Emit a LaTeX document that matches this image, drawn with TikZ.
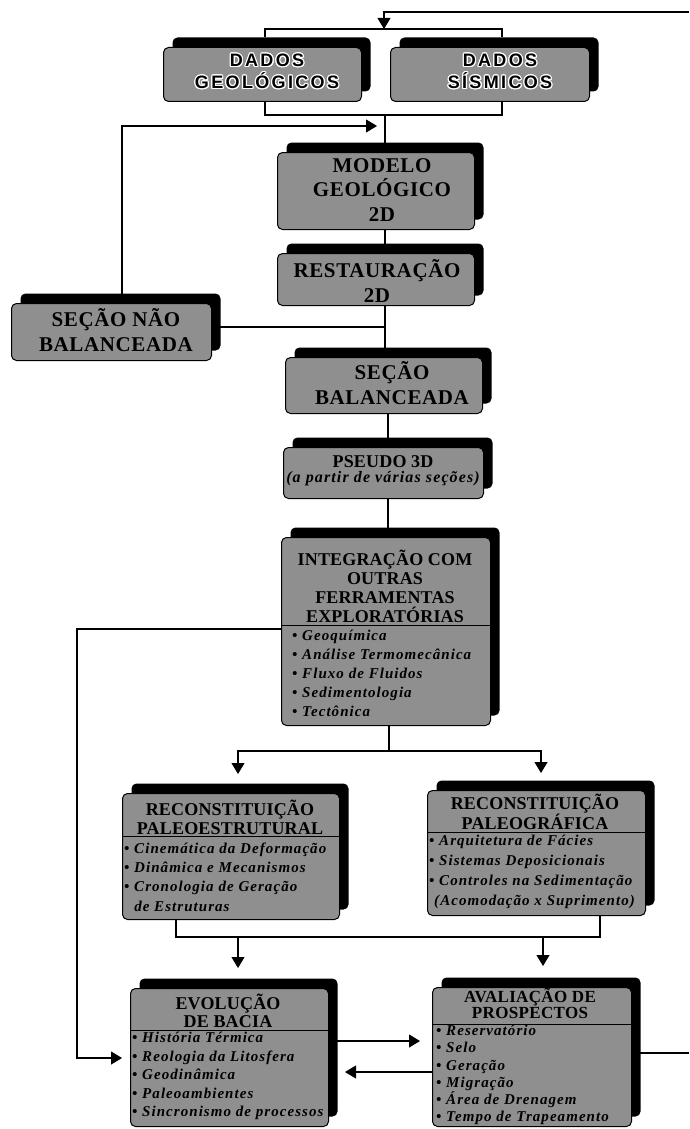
\documentclass[tikz,border=0pt]{standalone}
\usepackage{fontspec}
\setmainfont{Liberation Serif}
\setsansfont{Liberation Sans}
\usepackage[copies]{contour}
\usetikzlibrary{arrows.meta,shadows}
\definecolor{boxgray}{gray}{0.56}
\contourlength{1.1pt}
\newcommand\fsz[2]{\fontsize{#1}{#2}\selectfont}
\begin{document}
\begin{tikzpicture}[x=1pt,y=-1pt,
  box/.style={draw=black,line width=1pt,fill=boxgray,rounded corners=5pt,inner sep=0pt,anchor=north west,
    drop shadow={shadow xshift=9pt,shadow yshift=10pt,fill=black,opacity=1}},
  conn/.style={draw=black,line width=1.1pt},
  arr/.style={conn,-{Triangle[length=11pt,width=13pt]}},
  divline/.style={draw=black,line width=1pt},
  sttl/.style={inner sep=0pt,align=center,font=\sffamily\bfseries\fsz{18}{22}\addfontfeature{LetterSpace=13}},
  ttl/.style={inner sep=0pt,align=center,font=\bfseries\fsz{21}{24.5}\addfontfeature{LetterSpace=3}},
  mttl/.style={inner sep=0pt,align=center,font=\bfseries\fsz{18}{#1}\addfontfeature{LetterSpace=1}},
  sttlb/.style={inner sep=0pt,align=center,font=\bfseries\fsz{17}{#1}\addfontfeature{LetterSpace=2}},
  psub/.style={inner sep=0pt,align=center,font=\bfseries\itshape\fsz{16}{18}\addfontfeature{LetterSpace=7}},
  lst/.style={inner sep=0pt,align=left,anchor=west,font=\bfseries\itshape\fsz{15}{#1}\addfontfeature{LetterSpace=7}}
]
\useasboundingbox (0,0) rectangle (689,1129);

% boxes
\node[box,minimum width=198pt,minimum height=54pt] (geo) at (163,47) {};
\node[box,minimum width=199pt,minimum height=54pt] (sis) at (390,47) {};
\node[box,minimum width=197pt,minimum height=77pt] (modelo) at (277,152) {};
\node[box,minimum width=197pt,minimum height=52pt] (rest) at (277,253) {};
\node[box,minimum width=200pt,minimum height=57pt] (secnao) at (11,303) {};
\node[box,minimum width=197pt,minimum height=56pt] (secbal) at (285,357) {};
\node[box,minimum width=200pt,minimum height=51pt] (pseudo) at (283,447) {};
\node[box,minimum width=209pt,minimum height=188pt] (integ) at (281,537) {};
\node[box,minimum width=217pt,minimum height=126pt] (paleoest) at (122,793) {};
\node[box,minimum width=218pt,minimum height=125pt] (paleog) at (427,790) {};
\node[box,minimum width=198pt,minimum height=138pt] (evol) at (130,988) {};
\node[box,minimum width=199pt,minimum height=139pt] (aval) at (432,987) {};

% dividers
\draw[divline] ([yshift=-88pt]integ.north west) -- ([yshift=-88pt]integ.north east);
\draw[divline] ([yshift=-43pt]paleoest.north west) -- ([yshift=-43pt]paleoest.north east);
\draw[divline] ([yshift=-42pt]paleog.north west) -- ([yshift=-42pt]paleog.north east);
\draw[divline] ([yshift=-42pt]evol.north west) -- ([yshift=-42pt]evol.north east);
\draw[divline] ([yshift=-37pt]aval.north west) -- ([yshift=-37pt]aval.north east);

% texts
\node[sttl] (geoT) at (267,72) {\contour{white}{DADOS}\\\contour{white}{GEOLÓGICOS}};
\node[sttl] (sisT) at (500,72) {\contour{white}{DADOS}\\\contour{white}{SÍSMICOS}};
\node[ttl] (modT) at (382,190) {MODELO\\GEOLÓGICO\\2D};
\node[ttl] (resT) at (377,281) {RESTAURAÇÃO\\2D};
\node[ttl] (snT) at (116,330) {SEÇÃO NÃO\\BALANCEADA};
\node[ttl] (sbT) at (392,383) {SEÇÃO\\BALANCEADA};
\node[mttl=20] (psT) at (383,462) {PSEUDO 3D};
\node[psub] (psS) at (383,479) {(a partir de várias seções)};
\node[mttl=19] (inT) at (385,586.5) {INTEGRAÇÃO COM\\OUTRAS\\FERRAMENTAS\\EXPLORATÓRIAS};
\node[lst=19] (inL) at (292,673) {\textbullet\ Geoquímica\\\textbullet\ Análise Termomecânica\\\textbullet\ Fluxo de Fluidos\\\textbullet\ Sedimentologia\\\textbullet\ Tectônica};
\node[mttl=19.5] (peT) at (230,817.5) {RECONSTITUIÇÃO\\PALEOESTRUTURAL};
\node[lst=19.3] (peL) at (124,877) {\textbullet\ Cinemática da Deformação\\\textbullet\ Dinâmica e Mecanismos\\\textbullet\ Cronologia de Geração\\\phantom{\textbullet\ }de Estruturas};
\node[mttl=20] (pgT) at (535,812) {RECONSTITUIÇÃO\\PALEOGRÁFICA};
\node[lst=20] (pgL) at (429,872) {\textbullet\ Arquitetura de Fácies\\\textbullet\ Sistemas Deposicionais\\\textbullet\ Controles na Sedimentação\\\hspace{5pt}(Acomodação x Suprimento)};
\node[mttl=18] (evT) at (228,1011) {EVOLUÇÃO\\DE BACIA};
\node[lst=18.5] (evL) at (132,1076) {\textbullet\ História Térmica\\\textbullet\ Reologia da Litosfera\\\textbullet\ Geodinâmica\\\textbullet\ Paleoambientes\\\textbullet\ Sincronismo de processos};
\node[sttlb=16.5] (avT) at (530,1003.5) {AVALIAÇÃO DE\\PROSPECTOS};
\node[lst=17.2] (avL) at (436,1075) {\textbullet\ Reservatório\\\textbullet\ Selo\\\textbullet\ Geração\\\textbullet\ Migração\\\textbullet\ Área de Drenagem\\\textbullet\ Tempo de Trapeamento};

% coordinates
\coordinate (topR) at (689,12);
\coordinate (topBr) at (384,29);
\coordinate (brL) at (265,37);
\coordinate (brR) at (502,37);
\coordinate (bbL) at (265,101);
\coordinate (bbR) at (502,101);
\coordinate (bbM) at (385,115);
\coordinate (fbC) at (122,126);
\coordinate (fbE) at (377,126);
\coordinate (jn) at (385,327);
\coordinate (cx) at (388,0);
\coordinate (splitM) at (389,751);
\coordinate (aPE) at (238,774);
\coordinate (aPG) at (541,773);
\coordinate (il) at (77,629);
\coordinate (evIn) at (122,1058);
\coordinate (lbL) at (176,937);
\coordinate (lbR) at (600,937);
\coordinate (lbA) at (238,937);
\coordinate (aEv) at (238,968);
\coordinate (lbB) at (543,937);
\coordinate (aAv) at (543,966);
\coordinate (e2a) at (420,1041);
\coordinate (a2e) at (345,1072);
\coordinate (avR) at (689,1053);

% connectors
\draw[arr] (topR) -| (topBr);
\draw[conn] (brL) |- (topBr) -| (brR);
\draw[conn] (bbL) |- (bbM) -| (bbR);
\draw[conn] (bbM) -- (modelo.north -| bbM);
\draw[arr] (secnao.north -| fbC) |- (fbE);
\draw[conn] (modelo.south -| bbM) -- (rest.north -| bbM);
\draw[conn] (rest.south -| jn) -- (secbal.north -| jn);
\draw[conn] (secnao.east |- jn) -- (jn);
\draw[conn] (secbal.south -| cx) -- (pseudo.north -| cx);
\draw[conn] (pseudo.south -| cx) -- (integ.north -| cx);
\draw[conn] (integ.south -| splitM) -- (splitM);
\draw[arr] (splitM) -| (aPE);
\draw[arr] (splitM) -| (aPG);
\draw[arr] (integ.west |- il) -- (il) |- (evIn);
\draw[conn] (paleoest.south -| lbL) -- (lbL) -- (lbR) -- (paleog.south -| lbR);
\draw[arr] (lbA) -- (aEv);
\draw[arr] (lbB) -- (aAv);
\draw[arr] (evol.east |- e2a) -- (e2a);
\draw[arr] (aval.west |- a2e) -- (a2e);
\draw[conn] (aval.east |- avR) -- (avR);
\end{tikzpicture}
\end{document}
